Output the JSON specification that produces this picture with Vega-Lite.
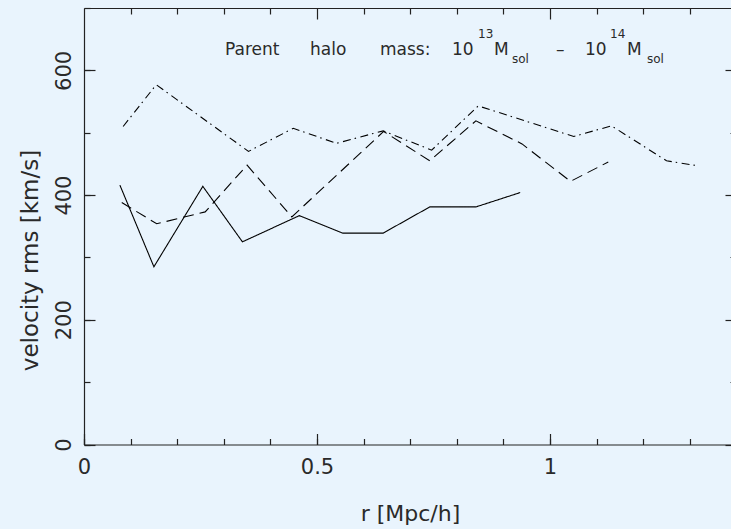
{
  "$schema": "https://vega.github.io/schema/vega-lite/v6.json",
  "width": 647,
  "height": 436.5,
  "autosize": {"type": "none"},
  "padding": {"left": 84, "top": 8, "right": 0, "bottom": 84.5},
  "background": "#e9f4fd",
  "config": {
    "view": {"stroke": null},
    "axis": {"grid": false, "domainColor": "#222", "tickColor": "#222", "labelColor": "#2a2a2a", "titleColor": "#2a2a2a", "labelFont": "DejaVu Sans", "titleFont": "DejaVu Sans", "titleFontWeight": "normal", "domainWidth": 1.2, "tickWidth": 1.2}
  },
  "datasets": {
    "lines": [
      {"r": 0.077, "v": 416, "s": "a"}, {"r": 0.150, "v": 285, "s": "a"}, {"r": 0.255, "v": 414, "s": "a"}, {"r": 0.340, "v": 325, "s": "a"}, {"r": 0.462, "v": 367, "s": "a"}, {"r": 0.555, "v": 339, "s": "a"}, {"r": 0.642, "v": 339, "s": "a"}, {"r": 0.742, "v": 381, "s": "a"}, {"r": 0.841, "v": 381, "s": "a"}, {"r": 0.936, "v": 404, "s": "a"},
      {"r": 0.081, "v": 388, "s": "b"}, {"r": 0.156, "v": 354, "s": "b"}, {"r": 0.260, "v": 373, "s": "b"}, {"r": 0.350, "v": 448, "s": "b"}, {"r": 0.446, "v": 365, "s": "b"}, {"r": 0.643, "v": 502, "s": "b"}, {"r": 0.742, "v": 455, "s": "b"}, {"r": 0.841, "v": 519, "s": "b"}, {"r": 0.940, "v": 482, "s": "b"}, {"r": 1.044, "v": 422, "s": "b"}, {"r": 1.125, "v": 453, "s": "b"},
      {"r": 0.084, "v": 510, "s": "c"}, {"r": 0.155, "v": 577, "s": "c"}, {"r": 0.353, "v": 470, "s": "c"}, {"r": 0.449, "v": 507, "s": "c"}, {"r": 0.542, "v": 483, "s": "c"}, {"r": 0.642, "v": 503, "s": "c"}, {"r": 0.746, "v": 472, "s": "c"}, {"r": 0.846, "v": 543, "s": "c"}, {"r": 1.051, "v": 494, "s": "c"}, {"r": 1.132, "v": 511, "s": "c"}, {"r": 1.250, "v": 455, "s": "c"}, {"r": 1.317, "v": 447, "s": "c"}
    ],
    "mainText": [
      {"r": 0.3026, "v": 624.6, "t": "Parent"},
      {"r": 0.4850, "v": 624.6, "t": "halo"},
      {"r": 0.6352, "v": 624.6, "t": "mass:"},
      {"r": 0.7897, "v": 624.6, "t": "10"},
      {"r": 0.8798, "v": 624.6, "t": "M"},
      {"r": 1.0129, "v": 624.6, "t": "–"},
      {"r": 1.0751, "v": 624.6, "t": "10"},
      {"r": 1.1652, "v": 624.6, "t": "M"}
    ],
    "supText": [
      {"r": 0.8455, "v": 651.9, "t": "13"},
      {"r": 1.1288, "v": 651.9, "t": "14"}
    ],
    "subText": [
      {"r": 0.9185, "v": 611.8, "t": "sol"},
      {"r": 1.2081, "v": 611.8, "t": "sol"}
    ]
  },
  "layer": [
    {
      "data": {"name": "lines"},
      "mark": {"type": "line", "color": "#000", "strokeWidth": 1.1},
      "encoding": {
        "x": {"field": "r", "type": "quantitative", "scale": {"domain": [0, 1.3884], "nice": false, "zero": false},
          "axis": {"orient": "bottom", "values": [0, 0.5, 1], "format": ".1~f", "ticks": false, "labelFontSize": 21, "labelPadding": 12, "labelBaseline": "top", "labelFlush": false, "labelOverlap": false, "title": "r [Mpc/h]", "titleFontSize": 22, "titleX": 326, "titleY": 75.5, "titleAlign": "center", "titleBaseline": "alphabetic"}},
        "y": {"field": "v", "type": "quantitative", "scale": {"domain": [0, 700], "nice": false},
          "axis": {"orient": "left", "values": [0, 200, 400, 600], "format": "d", "ticks": false, "labelFontSize": 21, "labelAngle": 270, "labelAlign": "center", "labelBaseline": "alphabetic", "labelPadding": 14, "labelOverlap": false, "labelFlush": false, "title": "velocity rms [km/s]", "titleFontSize": 23, "titleAngle": 270, "titleX": -47, "titleY": 252, "titleAlign": "center", "titleBaseline": "alphabetic"}},
        "strokeDash": {"field": "s", "type": "nominal", "scale": {"domain": ["a", "b", "c"], "range": [[1, 0], [11, 6], [8, 4, 1.5, 4.5]]}, "legend": null}
      }
    },
    {
      "data": {"name": "lines"},
      "mark": {"type": "point", "opacity": 0},
      "encoding": {
        "x": {"field": "r", "type": "quantitative", "scale": {"domain": [0, 1.3884], "nice": false, "zero": false},
          "axis": {"orient": "bottom", "values": [0, 0.5, 1], "labels": false, "domain": false, "tickSize": -11, "title": null}},
        "y": {"field": "v", "type": "quantitative", "scale": {"domain": [0, 700], "nice": false},
          "axis": {"orient": "left", "values": [0, 200, 400, 600], "labels": false, "domain": false, "tickSize": -11, "title": null}}
      }
    },
    {
      "data": {"name": "lines"},
      "mark": {"type": "point", "opacity": 0},
      "encoding": {
        "x": {"field": "r", "type": "quantitative", "scale": {"domain": [0, 1.3884], "nice": false, "zero": false},
          "axis": {"orient": "bottom", "values": [0, 0.1, 0.2, 0.3, 0.4, 0.5, 0.6, 0.7, 0.8, 0.9, 1, 1.1, 1.2, 1.3], "labels": false, "domain": false, "tickSize": -6, "title": null}},
        "y": {"field": "v", "type": "quantitative", "scale": {"domain": [0, 700], "nice": false},
          "axis": {"orient": "left", "values": [0, 100, 200, 300, 400, 500, 600, 700], "labels": false, "domain": false, "tickSize": -6, "title": null}}
      }
    },
    {
      "data": {"name": "lines"},
      "mark": {"type": "point", "opacity": 0},
      "encoding": {
        "x": {"field": "r", "type": "quantitative", "scale": {"domain": [0, 1.3884], "nice": false, "zero": false},
          "axis": {"orient": "top", "values": [0.5, 1], "labels": false, "domain": true, "tickSize": -11, "title": null}},
        "y": {"field": "v", "type": "quantitative", "scale": {"domain": [0, 700], "nice": false},
          "axis": {"orient": "right", "offset": 5, "values": [0, 200, 400, 600], "labels": false, "domain": true, "tickSize": -11, "title": null}}
      }
    },
    {
      "data": {"name": "lines"},
      "mark": {"type": "point", "opacity": 0},
      "encoding": {
        "x": {"field": "r", "type": "quantitative", "scale": {"domain": [0, 1.3884], "nice": false, "zero": false},
          "axis": {"orient": "top", "values": [0.1, 0.2, 0.3, 0.4, 0.6, 0.7, 0.8, 0.9, 1.1, 1.2, 1.3], "labels": false, "domain": false, "tickSize": -6, "title": null}},
        "y": {"field": "v", "type": "quantitative", "scale": {"domain": [0, 700], "nice": false},
          "axis": {"orient": "right", "offset": 5, "values": [100, 300, 500, 700], "labels": false, "domain": false, "tickSize": -6, "title": null}}
      }
    },
    {
      "data": {"name": "mainText"},
      "mark": {"type": "text", "align": "left", "baseline": "alphabetic", "font": "DejaVu Sans", "fontSize": 17, "color": "#2a2a2a"},
      "encoding": {
        "x": {"field": "r", "type": "quantitative", "scale": {"domain": [0, 1.3884], "nice": false, "zero": false}, "axis": null},
        "y": {"field": "v", "type": "quantitative", "scale": {"domain": [0, 700], "nice": false}, "axis": null},
        "text": {"field": "t"}
      }
    },
    {
      "data": {"name": "supText"},
      "mark": {"type": "text", "align": "left", "baseline": "alphabetic", "font": "DejaVu Sans", "fontSize": 12, "color": "#2a2a2a"},
      "encoding": {
        "x": {"field": "r", "type": "quantitative", "scale": {"domain": [0, 1.3884], "nice": false, "zero": false}, "axis": null},
        "y": {"field": "v", "type": "quantitative", "scale": {"domain": [0, 700], "nice": false}, "axis": null},
        "text": {"field": "t"}
      }
    },
    {
      "data": {"name": "subText"},
      "mark": {"type": "text", "align": "left", "baseline": "alphabetic", "font": "DejaVu Sans", "fontSize": 12, "color": "#2a2a2a"},
      "encoding": {
        "x": {"field": "r", "type": "quantitative", "scale": {"domain": [0, 1.3884], "nice": false, "zero": false}, "axis": null},
        "y": {"field": "v", "type": "quantitative", "scale": {"domain": [0, 700], "nice": false}, "axis": null},
        "text": {"field": "t"}
      }
    }
  ],
  "resolve": {"axis": {"x": "independent", "y": "independent"}}
}
